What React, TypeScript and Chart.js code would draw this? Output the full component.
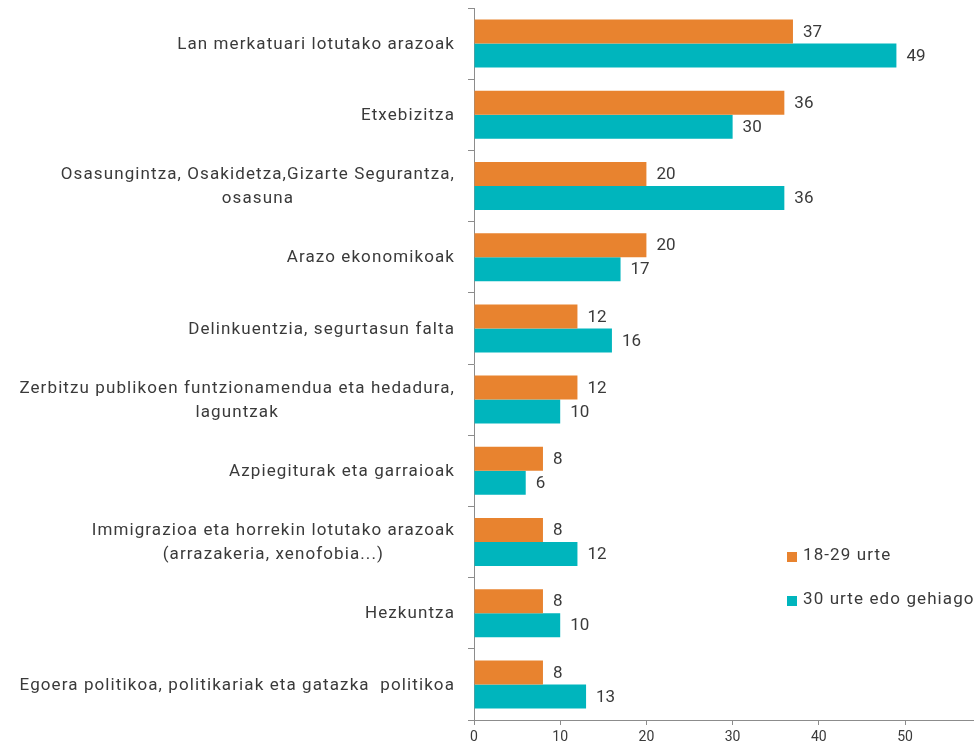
import React, { useEffect, useRef } from "react";
import { Chart, registerables } from "chart.js";

Chart.register(...registerables);

const categories: (string | string[])[] = [
  "Lan merkatuari lotutako arazoak",
  "Etxebizitza",
  ["Osasungintza, Osakidetza,Gizarte Segurantza,", "osasuna"],
  "Arazo ekonomikoak",
  "Delinkuentzia, segurtasun falta",
  ["Zerbitzu publikoen funtzionamendua eta hedadura,", "laguntzak"],
  "Azpiegiturak eta garraioak",
  ["Immigrazioa eta horrekin lotutako arazoak", "(arrazakeria, xenofobia...)"],
  "Hezkuntza",
  "Egoera politikoa, politikariak eta gatazka  politikoa",
];

const young = [37, 36, 20, 20, 12, 12, 8, 8, 8, 8];
const older = [49, 30, 36, 17, 16, 10, 6, 12, 10, 13];

const seriesLabels = ["18-29 urte", "30 urte edo gehiago"];
const seriesColors = ["#E8832F", "#00B5BD"];
const xTicks = [0, 10, 20, 30, 40, 50];

const FONT = "Roboto";
const TEXT = "#3a3a3a";
const AXIS = "#8c8c8c";
const SPACING = "1.1px";

const valueLabels = {
  id: "valueLabels",
  afterDatasetsDraw(chart: any) {
    const ctx = chart.ctx;
    ctx.save();
    ctx.font = `17px ${FONT}`;
    ctx.fillStyle = TEXT;
    ctx.textAlign = "left";
    ctx.textBaseline = "middle";
    chart.data.datasets.forEach((ds: any, i: number) => {
      const meta = chart.getDatasetMeta(i);
      meta.data.forEach((bar: any, j: number) => {
        ctx.fillText(String(ds.data[j]), bar.x + 10, bar.y + 1);
      });
    });
    ctx.restore();
  },
};

const categoryLabels = {
  id: "categoryLabels",
  afterDraw(chart: any) {
    const ctx = chart.ctx;
    const y = chart.scales.y;
    const right = y.right - 6 - 13;
    ctx.save();
    ctx.font = `17px ${FONT}`;
    (ctx as any).letterSpacing = SPACING;
    ctx.fillStyle = TEXT;
    ctx.textBaseline = "middle";
    ctx.textAlign = "center";
    const lh = 24;
    chart.data.labels.forEach((lab: any, i: number) => {
      const lines: string[] = Array.isArray(lab) ? lab : [lab];
      const widths = lines.map((l) => ctx.measureText(l).width);
      const maxW = Math.max(...widths);
      const cx = right - maxW / 2;
      const cy = y.getPixelForTick(i);
      const top = cy - ((lines.length - 1) * lh) / 2;
      lines.forEach((l, k) => {
        ctx.fillText(l, cx, top + k * lh + 1);
      });
    });
    ctx.restore();
  },
};

const customLegend = {
  id: "customLegend",
  afterDraw(chart: any) {
    const ctx = chart.ctx;
    ctx.save();
    ctx.font = `17px ${FONT}`;
    (ctx as any).letterSpacing = SPACING;
    ctx.textAlign = "left";
    ctx.textBaseline = "middle";
    const x = 787;
    const ys = [557, 601];
    chart.data.datasets.forEach((ds: any, i: number) => {
      ctx.fillStyle = ds.backgroundColor;
      ctx.fillRect(x, ys[i] - 5, 10, 10);
      ctx.fillStyle = TEXT;
      ctx.fillText(ds.label, x + 16, ys[i] - 1);
    });
    ctx.restore();
  },
};

export default function App() {
  const ref = useRef<HTMLCanvasElement>(null);
  useEffect(() => {
    if (!ref.current) return;
    const chart = new Chart(ref.current, {
      type: "bar",
      data: {
        labels: categories,
        datasets: [
          {
            label: seriesLabels[0],
            data: young,
            backgroundColor: seriesColors[0],
            categoryPercentage: 0.674,
            barPercentage: 1,
          },
          {
            label: seriesLabels[1],
            data: older,
            backgroundColor: seriesColors[1],
            categoryPercentage: 0.674,
            barPercentage: 1,
          },
        ],
      },
      options: {
        indexAxis: "y",
        animation: false,
        responsive: false,
        maintainAspectRatio: false,
        layout: { padding: { top: 8, right: 0, left: 0, bottom: 0 } },
        plugins: {
          legend: { display: false },
          tooltip: { enabled: false },
        },
        scales: {
          x: {
            min: 0,
            max: 58,
            afterBuildTicks: (scale: any) => {
              scale.ticks = xTicks.map((v) => ({ value: v }));
            },
            afterFit: (scale: any) => {
              scale.height = 29;
            },
            ticks: {
              font: { family: FONT, size: 14 },
              color: TEXT,
              padding: 4,
              maxRotation: 0,
            },
            grid: {
              drawOnChartArea: false,
              drawTicks: true,
              tickLength: 5,
              color: AXIS,
            },
            border: { color: AXIS, width: 1 },
          },
          y: {
            afterFit: (scale: any) => {
              scale.width = 474;
            },
            ticks: {
              display: false,
              autoSkip: false,
            },
            grid: {
              offset: true,
              drawOnChartArea: false,
              drawTicks: true,
              tickLength: 6,
              color: AXIS,
            },
            border: { color: AXIS, width: 1 },
          },
        },
      },
      plugins: [valueLabels, categoryLabels, customLegend],
    });
    return () => chart.destroy();
  }, []);
  return (
    <div style={{ position: "absolute", left: 0, top: 0, width: 974, height: 749, background: "#fff" }}>
      <canvas ref={ref} width={974} height={749} style={{ display: "block" }} />
    </div>
  );
}
